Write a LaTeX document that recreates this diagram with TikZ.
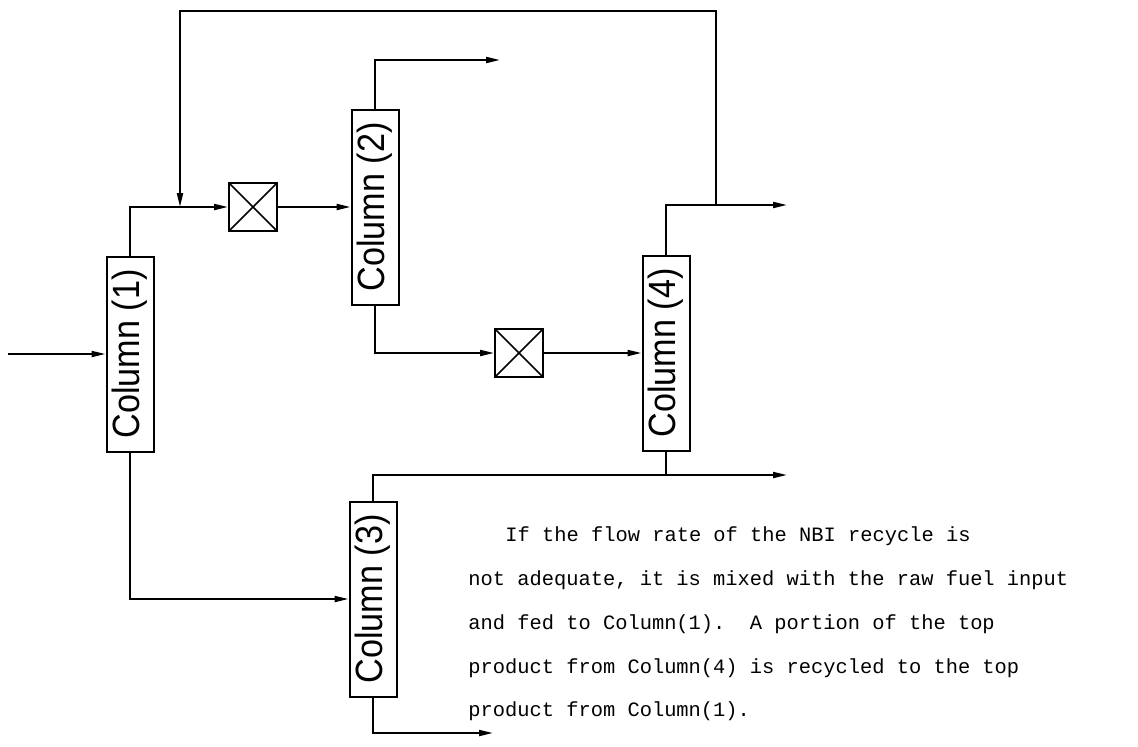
\documentclass[tikz,border=0pt]{standalone}
\usepackage{fontspec}
\usepackage{graphicx}
\setmainfont{Liberation Serif}
\newfontfamily\colfont{Liberation Sans}
\newfontfamily\typefont{Liberation Mono}
\usetikzlibrary{arrows.meta}
\begin{document}
\begin{tikzpicture}[x=0.5pt,y=-0.5pt,
  colbox/.style={draw, line width=1pt, minimum width=23.5pt, minimum height=97.5pt, inner sep=0pt},
  xbox/.style={draw, line width=1pt, minimum size=24pt, inner sep=0pt,
    path picture={\draw[line width=0.8pt] (path picture bounding box.north west) -- (path picture bounding box.south east)
      (path picture bounding box.north east) -- (path picture bounding box.south west);}},
  coltext/.style={rotate=90, inner sep=0pt, font=\colfont\fontsize{19}{19}\selectfont},
  flow/.style={line width=1pt, -{Triangle[length=7pt,width=3pt]}},
  pipe/.style={line width=1pt},
  note/.style={anchor=base west, inner sep=0pt, font=\typefont\fontsize{10.2}{12}\selectfont}
]
\useasboundingbox (0,0) rectangle (1138,746);

% columns
\node[colbox] (c1) at (130,354) {};
\node[coltext] (c1l) at (c1) {\scalebox{0.9}[1]{Column (1)}};
\node[colbox] (c2) at (375,207) {};
\node[coltext] (c2l) at (c2) {\scalebox{0.9}[1]{Column (2)}};
\node[colbox] (c3) at (373,599) {};
\node[coltext] (c3l) at (c3) {\scalebox{0.9}[1]{Column (3)}};
\node[colbox] (c4) at (666,353) {};
\node[coltext] (c4l) at (c4) {\scalebox{0.9}[1]{Column (4)}};

% valves
\node[xbox] (x1) at (253,207) {};
\node[xbox] (x2) at (519,353) {};

% free ends and junctions
\coordinate (in1) at (8,354);
\coordinate (o2) at (500,60);
\coordinate (o4) at (787,205);
\coordinate (o3) at (787,475);
\coordinate (o5) at (493,733);
\coordinate (r1) at (716,205);
\coordinate (rtop) at (180,11);
\coordinate (r2) at (180,207);
\coordinate (j4) at (666,475);

% connectors
\draw[flow] (in1) -- (c1.west);
\draw[flow] (c1.north) |- (x1.west);
\draw[flow] (x1.east) -- (c2.west);
\draw[flow] (c2.north) |- (o2);
\draw[flow] (c2.south) |- (x2.west);
\draw[flow] (x2.east) -- (c4.west);
\draw[flow] (c4.north) |- (o4);
\draw[flow] (r1) |- (rtop) -- (r2);
\draw[pipe] (c4.south) -- (j4);
\draw[flow] (c3.north) |- (o3);
\draw[flow] (c1.south) |- (c3.west);
\draw[flow] (c3.south) |- (o5);

% note
\node[note] (t1) at (505,541) {If the flow rate of the NBI recycle is};
\node[note] (t2) at (468,585) {not adequate, it is mixed with the raw fuel input};
\node[note] (t3) at (468,629) {and fed to Column(1).\ \ A portion of the top};
\node[note] (t4) at (468,673) {product from Column(4) is recycled to the top};
\node[note] (t5) at (468,716) {product from Column(1).};
\end{tikzpicture}
\end{document}
